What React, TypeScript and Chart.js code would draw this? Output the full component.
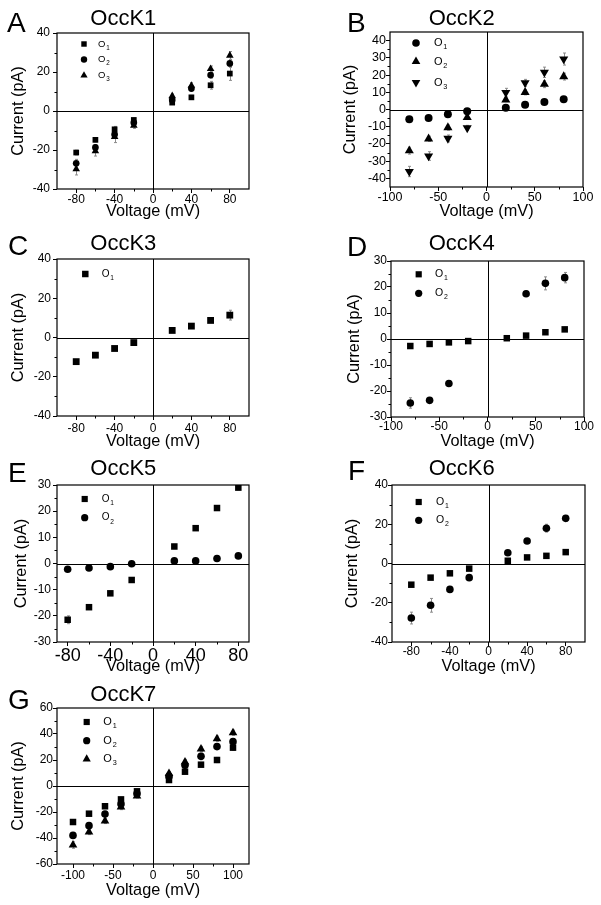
import React, { useEffect, useRef } from 'react';
import { Chart, registerables } from 'chart.js';

Chart.register(...registerables);

const FONT = '"Liberation Sans", Arial, Helvetica, sans-serif';

// ---------- shared axes / categories ----------
const voltages8 = [-80, -60, -40, -20, 20, 40, 60, 80];
const voltages10 = [-100, -80, -60, -40, -20, 20, 40, 60, 80, 100];

const xTicks80 = [-80, -40, 0, 40, 80];
const xTicks100 = [-100, -50, 0, 50, 100];
const yTicks40 = [-40, -20, 0, 20, 40];
const yTicks40by10 = [-40, -30, -20, -10, 0, 10, 20, 30, 40];
const yTicks30 = [-30, -20, -10, 0, 10, 20, 30];
const yTicks60 = [-60, -40, -20, 0, 20, 40, 60];

// ---------- A: OccK1 ----------
const occK1_O1 = [-21.3, -14.8, -9.4, -4.6, 4.3, 7.0, 13.2, 19.2];
const occK1_O2 = [-26.8, -18.7, -12.0, -6.0, 5.7, 11.5, 18.4, 24.4];
const occK1_O3 = [-29.8, -20.6, -13.2, -7.4, 7.7, 13.0, 21.6, 28.5];
const occK1_O1_err = [1.2, 1.0, 1.5, 1.0, 0.8, 1.0, 2.0, 3.5];
const occK1_O2_err = [2.0, 1.5, 1.5, 1.0, 0.8, 1.0, 1.5, 2.0];
const occK1_O3_err = [3.0, 2.5, 3.0, 1.5, 1.0, 1.5, 1.5, 2.0];

// ---------- B: OccK2 ----------
const occK2_O1 = [-5.7, -5.0, -2.7, -1.0, 1.0, 2.7, 4.4, 5.9];
const occK2_O2 = [-23.9, -17.0, -10.5, -4.6, 5.6, 10.0, 14.7, 19.1];
const occK2_O3 = [-36.0, -27.0, -16.8, -10.7, 9.8, 15.5, 21.6, 29.3];
const occK2_O1_err = [1.0, 1.0, 1.0, 0.8, 0.8, 0.8, 1.0, 1.0];
const occK2_O2_err = [2.0, 1.5, 1.5, 1.0, 1.0, 1.5, 2.0, 2.0];
const occK2_O3_err = [3.0, 2.5, 2.0, 1.5, 2.5, 2.0, 3.0, 3.5];

// ---------- C: OccK3 ----------
const occK3_O1 = [-12.3, -9.0, -5.6, -2.6, 3.6, 5.8, 8.7, 11.4];
const occK3_O1_err = [1.0, 1.2, 1.0, 0.8, 0.8, 0.8, 1.0, 2.5];

// ---------- D: OccK4 ----------
const occK4_O1 = [-2.7, -1.9, -1.3, -0.8, 0.3, 1.3, 2.6, 3.7];
const occK4_O2 = [-24.6, -23.6, -17.1, null, null, 17.4, 21.4, 23.6];
const occK4_O1_err = [0.8, 0.6, 0.6, 0.5, 0.5, 0.5, 0.6, 0.8];
const occK4_O2_err = [2.0, 1.0, 1.0, null, null, 1.0, 2.5, 2.0];

// ---------- E: OccK5 ----------
const occK5_O1 = [-21.5, -16.7, -11.4, -6.3, 6.5, 13.5, 21.2, 29.0];
const occK5_O2 = [-2.2, -1.7, -1.2, -0.1, 1.0, 1.0, 1.9, 2.9];
const occK5_O1_err = [1.5, 0.8, 0.8, 0.8, 0.8, 0.8, 0.8, 0.8];
const occK5_O2_err = [0.6, 0.6, 0.6, 0.5, 0.5, 0.5, 0.6, 0.6];

// ---------- F: OccK6 ----------
const occK6_O1 = [-10.8, -7.2, -5.0, -2.6, 1.4, 3.1, 3.9, 5.8];
const occK6_O2 = [-27.8, -21.3, -13.2, -7.2, 5.5, 11.5, 18.0, 23.0];
const occK6_O1_err = [1.0, 1.0, 1.0, 1.0, 0.8, 0.8, 1.0, 1.0];
const occK6_O2_err = [3.0, 3.5, 1.5, 1.0, 1.0, 1.0, 2.0, 1.5];

// ---------- G: OccK7 ----------
const occK7_O1 = [-27.7, -21.3, -15.6, -10.3, -4.1, 4.6, 11.0, 16.4, 20.0, 29.5];
const occK7_O2 = [-38.0, -30.5, -21.5, -13.8, -5.9, 7.4, 15.9, 22.8, 30.3, 34.1];
const occK7_O3 = [-45.4, -35.4, -26.9, -16.2, -7.7, 9.7, 18.5, 28.5, 36.4, 41.0];
const occK7_O1_err = [1.5, 1.5, 1.5, 1.5, 1.5, 1.5, 1.5, 1.5, 2.0, 2.0];
const occK7_O2_err = [2.0, 2.0, 2.0, 2.0, 1.5, 1.5, 2.0, 2.5, 2.0, 2.0];
const occK7_O3_err = [2.5, 2.0, 2.0, 2.0, 1.5, 1.5, 2.0, 2.0, 2.0, 2.0];

type Marker = 'rect' | 'circle' | 'triangle' | 'triangleDown';

interface Series {
  sub: string;
  marker: Marker;
  values: (number | null)[];
  errors: (number | null)[];
}

interface PanelCfg {
  letter: string;
  title: string;
  box: [number, number, number, number];
  area: [number, number, number, number];
  xRange: [number, number];
  yRange: [number, number];
  xTicks: number[];
  yTicks: number[];
  voltages: number[];
  series: Series[];
  letterPos: [number, number];
  titlePos: [number, number];
  yTitleX: number;
  xTitleY: number;
  xTickFont: number;
  yTickFont: number;
  xTickPad: number;
  yTickPad: number;
  legend: { x: number; ys: number[]; tx: number; fs: number };
  markerScale: number;
}

const panels: PanelCfg[] = [
  {
    letter: 'A', title: 'OccK1',
    box: [0, 0, 300, 228], area: [57, 33, 249, 189],
    xRange: [-100, 100], yRange: [-40, 40], xTicks: xTicks80, yTicks: yTicks40,
    voltages: voltages8,
    series: [
      { sub: '1', marker: 'rect', values: occK1_O1, errors: occK1_O1_err },
      { sub: '2', marker: 'circle', values: occK1_O2, errors: occK1_O2_err },
      { sub: '3', marker: 'triangle', values: occK1_O3, errors: occK1_O3_err },
    ],
    letterPos: [7, 32], titlePos: [123.3, 25], yTitleX: 18.5, xTitleY: 211.3,
    xTickFont: 12, yTickFont: 12, xTickPad: 0.5, yTickPad: 3,
    legend: { x: 84, ys: [44, 59.5, 75.5], tx: 98, fs: 9.5 }, markerScale: 0.88,
  },
  {
    letter: 'B', title: 'OccK2',
    box: [300, 0, 301, 228], area: [390, 32, 583, 187],
    xRange: [-100, 100], yRange: [-45, 45], xTicks: xTicks100, yTicks: yTicks40by10,
    voltages: voltages8,
    series: [
      { sub: '1', marker: 'circle', values: occK2_O1, errors: occK2_O1_err },
      { sub: '2', marker: 'triangle', values: occK2_O2, errors: occK2_O2_err },
      { sub: '3', marker: 'triangleDown', values: occK2_O3, errors: occK2_O3_err },
    ],
    letterPos: [347, 32], titlePos: [461.7, 25], yTitleX: 350.5, xTitleY: 211.3,
    xTickFont: 12.5, yTickFont: 12.5, xTickPad: 0, yTickPad: 0,
    legend: { x: 416, ys: [43, 61.5, 82.5], tx: 434, fs: 11 }, markerScale: 1.05,
  },
  {
    letter: 'C', title: 'OccK3',
    box: [0, 228, 300, 227], area: [57, 259, 249, 416],
    xRange: [-100, 100], yRange: [-40, 40], xTicks: xTicks80, yTicks: yTicks40,
    voltages: voltages8,
    series: [
      { sub: '1', marker: 'rect', values: occK3_O1, errors: occK3_O1_err },
    ],
    letterPos: [8, 255], titlePos: [123.3, 250], yTitleX: 18.5, xTitleY: 442,
    xTickFont: 12, yTickFont: 12, xTickPad: 2.5, yTickPad: 2,
    legend: { x: 85.3, ys: [274], tx: 101.7, fs: 10 }, markerScale: 1.05,
  },
  {
    letter: 'D', title: 'OccK4',
    box: [300, 228, 301, 227], area: [391, 261, 584, 417],
    xRange: [-100, 100], yRange: [-30, 30], xTicks: xTicks100, yTicks: yTicks30,
    voltages: voltages8,
    series: [
      { sub: '1', marker: 'rect', values: occK4_O1, errors: occK4_O1_err },
      { sub: '2', marker: 'circle', values: occK4_O2, errors: occK4_O2_err },
    ],
    letterPos: [347, 256], titlePos: [461.7, 250], yTitleX: 355, xTitleY: 442,
    xTickFont: 12, yTickFont: 12, xTickPad: 0, yTickPad: 0,
    legend: { x: 418.7, ys: [274.3, 293.3], tx: 435, fs: 10.5 }, markerScale: 1.0,
  },
  {
    letter: 'E', title: 'OccK5',
    box: [0, 455, 300, 225], area: [57, 485, 249, 642],
    xRange: [-90, 90], yRange: [-30, 30], xTicks: xTicks80, yTicks: yTicks30,
    voltages: voltages8,
    series: [
      { sub: '1', marker: 'rect', values: occK5_O1, errors: occK5_O1_err },
      { sub: '2', marker: 'circle', values: occK5_O2, errors: occK5_O2_err },
    ],
    letterPos: [8, 482], titlePos: [123.3, 475], yTitleX: 21.5, xTitleY: 667,
    xTickFont: 18, yTickFont: 12, xTickPad: 0.7, yTickPad: 2,
    legend: { x: 84.7, ys: [499, 517.7], tx: 101.7, fs: 10 }, markerScale: 1.0,
  },
  {
    letter: 'F', title: 'OccK6',
    box: [300, 455, 301, 225], area: [392, 485, 585, 642],
    xRange: [-100, 100], yRange: [-40, 40], xTicks: xTicks80, yTicks: yTicks40,
    voltages: voltages8,
    series: [
      { sub: '1', marker: 'rect', values: occK6_O1, errors: occK6_O1_err },
      { sub: '2', marker: 'circle', values: occK6_O2, errors: occK6_O2_err },
    ],
    letterPos: [348, 480], titlePos: [461.7, 475], yTitleX: 353, xTitleY: 667,
    xTickFont: 12, yTickFont: 12, xTickPad: 0, yTickPad: 0,
    legend: { x: 418.7, ys: [502, 520.3], tx: 436, fs: 10.5 }, markerScale: 1.0,
  },
  {
    letter: 'G', title: 'OccK7',
    box: [0, 680, 300, 225], area: [57, 708, 249, 864],
    xRange: [-120, 120], yRange: [-60, 60], xTicks: xTicks100, yTicks: yTicks60,
    voltages: voltages10,
    series: [
      { sub: '1', marker: 'rect', values: occK7_O1, errors: occK7_O1_err },
      { sub: '2', marker: 'circle', values: occK7_O2, errors: occK7_O2_err },
      { sub: '3', marker: 'triangle', values: occK7_O3, errors: occK7_O3_err },
    ],
    letterPos: [8, 709], titlePos: [123.3, 701], yTitleX: 19, xTitleY: 891,
    xTickFont: 12, yTickFont: 12, xTickPad: 2, yTickPad: 0,
    legend: { x: 86.7, ys: [722, 740.7, 759], tx: 103.3, fs: 11 }, markerScale: 1.0,
  },
];

const BASE_R: Record<Marker, number> = { rect: 4.6, circle: 3.8, triangle: 5, triangleDown: 5 };
const AXIS_TITLE_FONT = 16.3;
const AXIS_TITLE_LH = 1.2;

function drawMarker(ctx: CanvasRenderingContext2D, m: Marker, x: number, y: number, r: number) {
  ctx.beginPath();
  if (m === 'rect') {
    const s = r * Math.SQRT1_2;
    ctx.rect(x - s, y - s, 2 * s, 2 * s);
  } else if (m === 'circle') {
    ctx.arc(x, y, r, 0, Math.PI * 2);
  } else if (m === 'triangle') {
    ctx.moveTo(x, y - r);
    ctx.lineTo(x + 0.866 * r, y + 0.5 * r);
    ctx.lineTo(x - 0.866 * r, y + 0.5 * r);
    ctx.closePath();
  } else {
    ctx.moveTo(x, y + r);
    ctx.lineTo(x + 0.866 * r, y - 0.5 * r);
    ctx.lineTo(x - 0.866 * r, y - 0.5 * r);
    ctx.closePath();
  }
  ctx.fill();
}

function minorTicks(ticks: number[], min: number, max: number): number[] {
  const out: number[] = [];
  for (let i = 0; i < ticks.length - 1; i++) out.push((ticks[i] + ticks[i + 1]) / 2);
  const step = ticks[1] - ticks[0];
  if (ticks[0] - step / 2 > min) out.unshift(ticks[0] - step / 2);
  if (ticks[ticks.length - 1] + step / 2 < max) out.push(ticks[ticks.length - 1] + step / 2);
  return out;
}

function makeDecor(cfg: PanelCfg) {
  const [bx, by] = cfg.box;
  return {
    id: 'decor',
    beforeDatasetsDraw(chart: any) {
      const { ctx, chartArea: a, scales } = chart;
      const xs = scales.x;
      const ys = scales.y;
      ctx.save();
      // error bars
      ctx.strokeStyle = '#8c8c8c';
      ctx.lineWidth = 1;
      cfg.series.forEach((s) => {
        s.values.forEach((v, i) => {
          const e = s.errors[i];
          if (v == null || e == null) return;
          const px = Math.round(xs.getPixelForValue(cfg.voltages[i])) + 0.5;
          const y1 = ys.getPixelForValue(v - e);
          const y2 = ys.getPixelForValue(v + e);
          ctx.beginPath();
          ctx.moveTo(px, y1);
          ctx.lineTo(px, y2);
          ctx.moveTo(px - 1.5, y1);
          ctx.lineTo(px + 1.5, y1);
          ctx.moveTo(px - 1.5, y2);
          ctx.lineTo(px + 1.5, y2);
          ctx.stroke();
        });
      });
      // frame
      ctx.strokeStyle = '#000';
      ctx.lineWidth = 1.2;
      ctx.strokeRect(a.left, a.top, a.right - a.left, a.bottom - a.top);
      // zero lines
      const zx = Math.round(xs.getPixelForValue(0)) + 0.5;
      const zy = Math.round(ys.getPixelForValue(0)) + 0.5;
      ctx.lineWidth = 1;
      ctx.beginPath();
      ctx.moveTo(zx, a.top);
      ctx.lineTo(zx, a.bottom);
      ctx.moveTo(a.left, zy);
      ctx.lineTo(a.right, zy);
      ctx.stroke();
      // minor ticks
      ctx.beginPath();
      minorTicks(cfg.yTicks, cfg.yRange[0], cfg.yRange[1]).forEach((v) => {
        const py = Math.round(ys.getPixelForValue(v)) + 0.5;
        ctx.moveTo(a.left, py);
        ctx.lineTo(a.left - 2.5, py);
      });
      minorTicks(cfg.xTicks, cfg.xRange[0], cfg.xRange[1]).forEach((v) => {
        const px = Math.round(xs.getPixelForValue(v)) + 0.5;
        ctx.moveTo(px, a.bottom);
        ctx.lineTo(px, a.bottom + 2.5);
      });
      ctx.stroke();
      ctx.restore();
    },
    afterDraw(chart: any) {
      const ctx: CanvasRenderingContext2D = chart.ctx;
      ctx.save();
      ctx.fillStyle = '#000';
      // panel letter
      ctx.font = `28px ${FONT}`;
      ctx.textAlign = 'left';
      ctx.textBaseline = 'alphabetic';
      ctx.fillText(cfg.letter, cfg.letterPos[0] - bx, cfg.letterPos[1] - by);
      // panel title
      ctx.font = `22px ${FONT}`;
      ctx.textAlign = 'center';
      ctx.fillText(cfg.title, cfg.titlePos[0] - bx, cfg.titlePos[1] - by);
      // legend
      const lg = cfg.legend;
      cfg.series.forEach((s, i) => {
        const y = lg.ys[i] - by;
        drawMarker(ctx, s.marker, lg.x - bx, y, BASE_R[s.marker] * cfg.markerScale * 0.95);
        ctx.textAlign = 'left';
        ctx.textBaseline = 'middle';
        ctx.font = `${lg.fs}px ${FONT}`;
        ctx.fillText('O', lg.tx - bx, y);
        const w = ctx.measureText('O').width;
        ctx.font = `${lg.fs * 0.66}px ${FONT}`;
        ctx.fillText(s.sub, lg.tx - bx + w + 0.8, y + lg.fs * 0.4);
      });
      ctx.restore();
    },
  };
}

function Panel({ cfg }: { cfg: PanelCfg }) {
  const ref = useRef<HTMLCanvasElement | null>(null);
  useEffect(() => {
    if (!ref.current) return;
    const [bx, by, bw, bh] = cfg.box;
    const [l, t, r, b] = cfg.area;
    const lh = AXIS_TITLE_FONT * AXIS_TITLE_LH;
    const datasets = cfg.series.map((s) => ({
      label: 'O' + s.sub,
      data: s.values
        .map((v, i) => ({ x: cfg.voltages[i], y: v }))
        .filter((p) => p.y != null),
      pointStyle: s.marker === 'triangleDown' ? 'triangle' : s.marker,
      rotation: s.marker === 'triangleDown' ? 180 : 0,
      pointRadius: BASE_R[s.marker] * cfg.markerScale,
      pointBorderWidth: 0,
      backgroundColor: '#000',
      borderColor: '#000',
      showLine: false,
    }));
    const chart = new Chart(ref.current, {
      type: 'scatter',
      data: { datasets } as any,
      options: {
        animation: false,
        responsive: false,
        events: [],
        layout: { padding: { left: 0, top: t - by, right: bx + bw - r, bottom: 0 } },
        plugins: {
          legend: { display: false },
          tooltip: { enabled: false },
          title: { display: false },
        },
        scales: {
          x: {
            type: 'linear',
            position: 'bottom',
            min: cfg.xRange[0],
            max: cfg.xRange[1],
            afterBuildTicks: (s: any) => {
              s.ticks = cfg.xTicks.map((v) => ({ value: v }));
            },
            afterFit: (s: any) => {
              s.height = by + bh - b;
            },
            grid: {
              drawOnChartArea: false,
              drawTicks: true,
              tickLength: 4,
              color: '#000',
              tickColor: '#000',
              lineWidth: 1,
            },
            border: { display: false },
            ticks: {
              color: '#000',
              font: { family: FONT, size: cfg.xTickFont, lineHeight: 1 },
              padding: cfg.xTickPad,
              maxRotation: 0,
              minRotation: 0,
              autoSkip: false,
              callback: (v: any) => String(v),
            },
            title: {
              display: true,
              text: 'Voltage (mV)',
              color: '#000',
              font: { family: FONT, size: AXIS_TITLE_FONT, lineHeight: AXIS_TITLE_LH },
              padding: { top: 0, bottom: by + bh - cfg.xTitleY - lh / 2 },
            },
          },
          y: {
            type: 'linear',
            position: 'left',
            min: cfg.yRange[0],
            max: cfg.yRange[1],
            afterBuildTicks: (s: any) => {
              s.ticks = cfg.yTicks.map((v) => ({ value: v }));
            },
            afterFit: (s: any) => {
              s.width = l - bx;
            },
            grid: {
              drawOnChartArea: false,
              drawTicks: true,
              tickLength: 4,
              color: '#000',
              tickColor: '#000',
              lineWidth: 1,
            },
            border: { display: false },
            ticks: {
              color: '#000',
              font: { family: FONT, size: cfg.yTickFont, lineHeight: 1 },
              padding: cfg.yTickPad,
              autoSkip: false,
              callback: (v: any) => String(v),
            },
            title: {
              display: true,
              text: 'Current (pA)',
              color: '#000',
              font: { family: FONT, size: AXIS_TITLE_FONT, lineHeight: AXIS_TITLE_LH },
              padding: { top: cfg.yTitleX - bx - lh / 2, bottom: 0 },
            },
          },
        },
      } as any,
      plugins: [makeDecor(cfg)],
    });
    return () => chart.destroy();
  }, [cfg]);
  const [bx, by, bw, bh] = cfg.box;
  return (
    <canvas
      ref={ref}
      width={bw}
      height={bh}
      style={{ position: 'absolute', left: bx, top: by, width: bw, height: bh }}
    />
  );
}

export default function App() {
  return (
    <div
      style={{
        position: 'absolute',
        left: 0,
        top: 0,
        width: 601,
        height: 905,
        background: '#fff',
        overflow: 'hidden',
      }}
    >
      {panels.map((p) => (
        <Panel key={p.letter} cfg={p} />
      ))}
    </div>
  );
}
